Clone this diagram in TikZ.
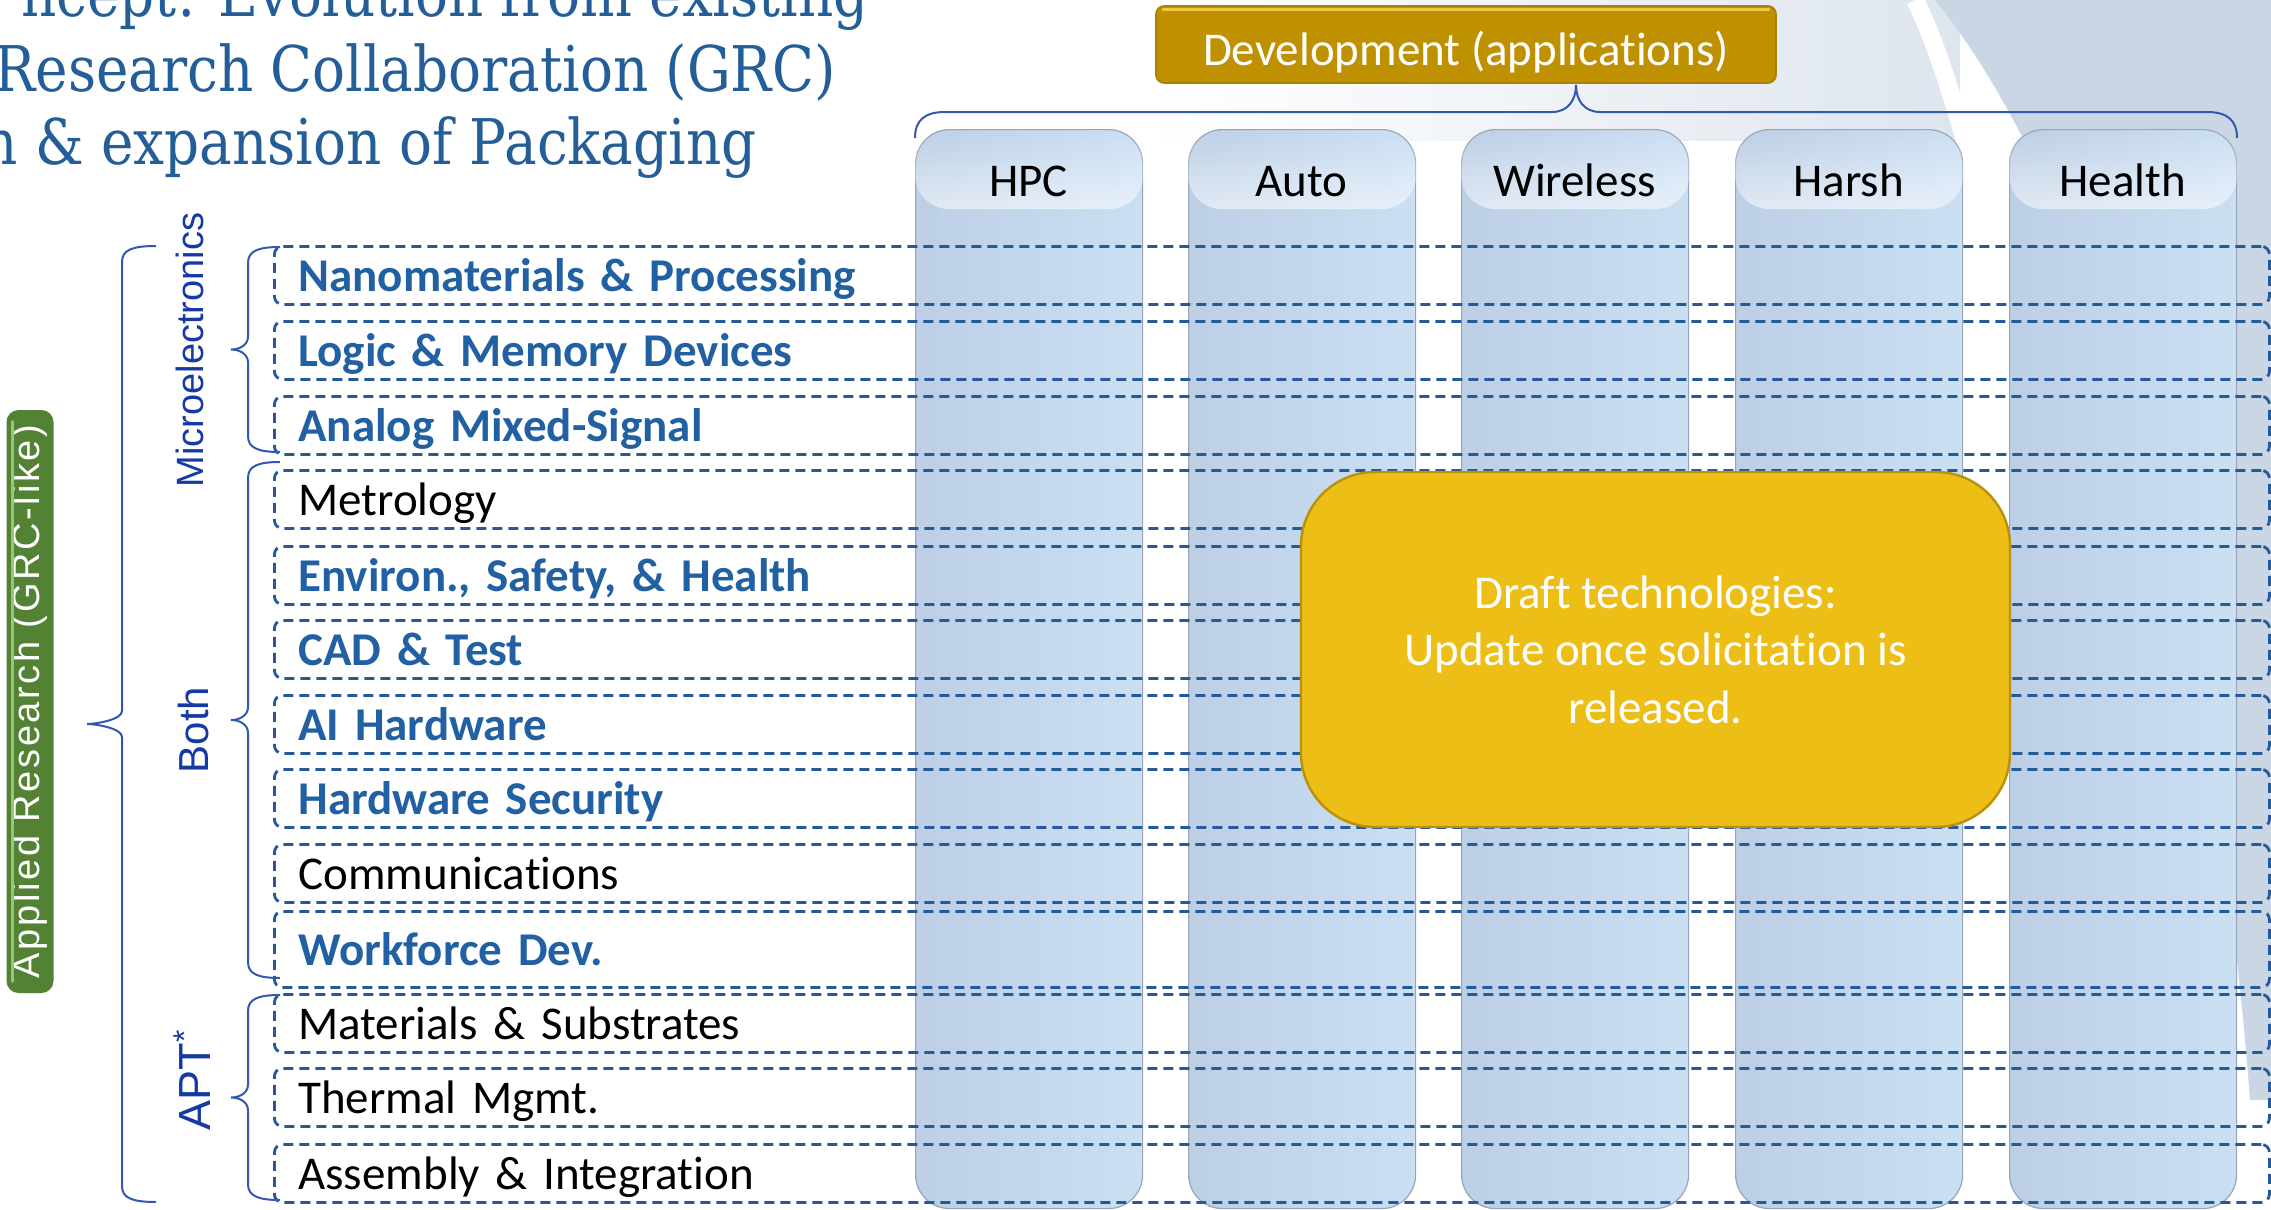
\documentclass[tikz,border=0pt]{standalone}
\usepackage{fontspec}
\setmainfont{Carlito}[Ligatures={NoCommon}]
\newfontfamily\arialfont{Liberation Sans}
\newfontfamily\spacedfont[LetterSpace=7]{Liberation Sans}
\newfontfamily\titlefont[FakeStretch=0.87]{DejaVu Serif}
\usetikzlibrary{fadings,calc}

\definecolor{titleblue}{RGB}{36,94,152}
\definecolor{rowblue}{RGB}{33,96,163}
\definecolor{dashblue}{RGB}{34,90,156}
\definecolor{bracecol}{RGB}{50,88,178}
\definecolor{groupblue}{RGB}{22,58,165}
\definecolor{colleft}{RGB}{188,207,229}
\definecolor{colright}{RGB}{203,223,243}
\definecolor{coledge}{RGB}{150,166,186}
\definecolor{devgold}{RGB}{191,144,0}
\definecolor{devedge}{RGB}{170,128,0}
\definecolor{devhi}{RGB}{240,200,70}
\definecolor{draftgold}{RGB}{236,190,22}
\definecolor{draftedge}{RGB}{185,145,10}
\definecolor{greenbox}{RGB}{84,130,53}
\definecolor{greenhi}{RGB}{150,200,110}
\definecolor{bglight}{RGB}{222,229,238}
\definecolor{bgmid}{RGB}{203,214,228}

\newcommand\rowfont{\fontsize{23.5pt}{28pt}\selectfont}
\newcommand\draftfont{\fontsize{23.5pt}{28.75pt}\selectfont}
\newcommand\grpfont{\arialfont\fontsize{21pt}{25pt}\selectfont}
\newcommand\greenfont{\spacedfont\fontsize{19pt}{23pt}\selectfont}
\newcommand\titlesize{\titlefont\fontsize{31.5pt}{38pt}\selectfont}

% left-pointing curly brace: end x, spine x, tip x, top y, bottom y
\newcommand\curlyleft[5]{%
  \pgfmathsetmacro\bmid{(#4+#5)/2}
  \draw[bracestyle] (#1,#4) .. controls ({#2+10},#4) and (#2,{#4+4}) .. (#2,{#4+16})
    -- (#2,{\bmid-13}) .. controls (#2,{\bmid-4}) and ({#3+8},\bmid) .. (#3,\bmid)
    .. controls ({#3+8},\bmid) and (#2,{\bmid+4}) .. (#2,{\bmid+13})
    -- (#2,{#5-16}) .. controls (#2,{#5-4}) and ({#2+10},#5) .. (#1,#5);}

\tikzset{
  rowbox/.style={draw=dashblue, line width=1.4pt, dash pattern=on 5pt off 3pt,
    rounded corners=4pt, anchor=north west, minimum height=29pt, text width=973.5pt,
    inner xsep=12pt, inner ysep=0pt, align=left, text height=16pt, text depth=0pt,
    font=\rowfont, text=black},
  rowbold/.style={text=rowblue, font=\rowfont\bfseries},
  colbox/.style={anchor=north west, minimum width=113.5pt, minimum height=539.5pt,
    rounded corners=17pt, left color=colleft, right color=colright, draw=coledge,
    line width=0.6pt, inner sep=0pt},
  collabel/.style={anchor=base, font=\rowfont, text=black, inner sep=0pt},
  bracestyle/.style={draw=bracecol, line width=1pt},
  grouplabel/.style={rotate=90, font=\grpfont, text=groupblue, inner sep=0pt},
  titletext/.style={anchor=base east, font=\titlesize, text=titleblue, inner sep=0pt},
  draftbox/.style={fill=draftgold, draw=draftedge, line width=1.2pt, rounded corners=37pt,
    minimum width=354.5pt, minimum height=177.5pt, align=center, text=white, font=\draftfont},
  devbox/.style={fill=devgold, draw=devedge, line width=0.8pt, rounded corners=4pt,
    minimum width=310pt, minimum height=38.5pt, text=white, font=\rowfont,
    text height=20.5pt, text depth=0pt, inner sep=0pt},
  greenlabel/.style={rotate=90, fill=greenbox, rounded corners=6pt, minimum width=291.5pt,
    minimum height=23.5pt, text=white, font=\greenfont, inner sep=0pt},
}

\begin{document}
\begin{tikzpicture}[x=0.5pt,y=-0.5pt]
\useasboundingbox (0,0) rectangle (2271,1210);
\fill[white] (0,0) rectangle (2271,1210);

% backdrop sweep at the upper right
\shade[left color=white, right color=bglight] (1150,0) rectangle (1960,140);
\fill[bgmid] (1935,0) -- (2271,0) -- (2271,1100) -- (2250,1100)
  .. controls (2220,700) and (2120,230) .. (1935,0) -- cycle;
\draw[white, line width=9pt] (1915,0) .. controls (1935,40) and (1950,90) .. (1965,140);

% application columns
\node[colbox] (hpc)    at (915,129)  {};
\node[colbox] (auto)   at (1188,129) {};
\node[colbox] (wire)   at (1461,129) {};
\node[colbox] (harsh)  at (1735,129) {};
\node[colbox] (health) at (2009,129) {};
\foreach \c in {hpc,auto,wire,harsh,health}{
  \fill[white, fill opacity=0.55, path fading=north, rounded corners=17pt]
    (\c.north west) rectangle ($(\c.north east)+(0,80)$);
}
\node[collabel] (hpcl)    at (1028.5,196) {HPC};
\node[collabel] (autol)   at (1301.5,196) {Auto};
\node[collabel] (wirel)   at (1574.5,196) {Wireless};
\node[collabel] (harshl)  at (1848.5,196) {Harsh};
\node[collabel] (healthl) at (2122.5,196) {Health};

% development header and its brace
\node[devbox] (dev) at (1466,44.5) {Development (applications)};
\draw[devhi, line width=1.5pt, line cap=round] ($(dev.north west)+(8,4)$) -- ($(dev.north east)+(-8,4)$);
\coordinate (devtip) at (1576,85);
\draw[bracestyle] (915,138) .. controls (915,120) and (925,112) .. (945,112)
  -- (1552,112) .. controls (1568,112) and ($(devtip)+(0,15)$) .. (devtip)
  .. controls ($(devtip)+(0,15)$) and (1584,112) .. (1600,112)
  -- (2207,112) .. controls (2227,112) and (2237,120) .. (2237,138);

% technology rows
\node[rowbox, rowbold] (nano)  at (273,245)  {Nanomaterials \& Processing};
\node[rowbox, rowbold] (logic) at (273,320)  {Logic \& Memory Devices};
\node[rowbox, rowbold] (amix)  at (273,395)  {Analog Mixed-Signal};
\node[rowbox]          (metro) at (273,469)  {Metrology};
\node[rowbox, rowbold] (esh)   at (273,545)  {Environ., Safety, \& Health};
\node[rowbox, rowbold] (cad)   at (273,619)  {CAD \& Test};
\node[rowbox, rowbold] (aihw)  at (273,694)  {AI Hardware};
\node[rowbox, rowbold] (hwsec) at (273,768)  {Hardware Security};
\node[rowbox]          (comm)  at (273,843)  {Communications};
\node[rowbox, rowbold, minimum height=38pt] (wfd) at (273,910) {Workforce Dev.};
\node[rowbox]          (mats)  at (273,993)  {Materials \& Substrates};
\node[rowbox]          (therm) at (273,1067) {Thermal Mgmt.};
\node[rowbox]          (assy)  at (273,1143) {Assembly \& Integration};

% grouping braces and labels
\curlyleft{280}{248}{231}{247}{452}
\curlyleft{280}{248}{231}{462}{978}
\curlyleft{280}{248}{231}{995}{1200}
\curlyleft{156}{122}{87}{246}{1202}
\node[grouplabel, font=\arialfont\fontsize{19pt}{23pt}\selectfont] (micro) at (190,350) {Microelectronics};
\node[grouplabel] (both)  at (193,730)  {Both};
\node[grouplabel, font=\arialfont\fontsize{22.5pt}{27pt}\selectfont] (apt) at (192,1080) {APT\textsuperscript{*}};

\node[greenlabel] (applied) at (30,701.5) {Applied Research (GRC-like)};
\draw[greenhi, line width=1.6pt, line cap=round]
  ($(applied.north east)+(6,12)$) -- ($(applied.north west)+(6,-12)$);

% draft note
\node[draftbox] (draft) at (1655.5,649.5) {Draft technologies:\\Update once solicitation is\\released.};

% slide title
\node[titletext] (t1) at (869,17)  {ncept: Evolution from existing};
\node[titletext] (t2) at (836,91)  {Research Collaboration (GRC)};
\node[titletext] (t3) at (757,164) {n \& expansion of Packaging};
\end{tikzpicture}
\end{document}
